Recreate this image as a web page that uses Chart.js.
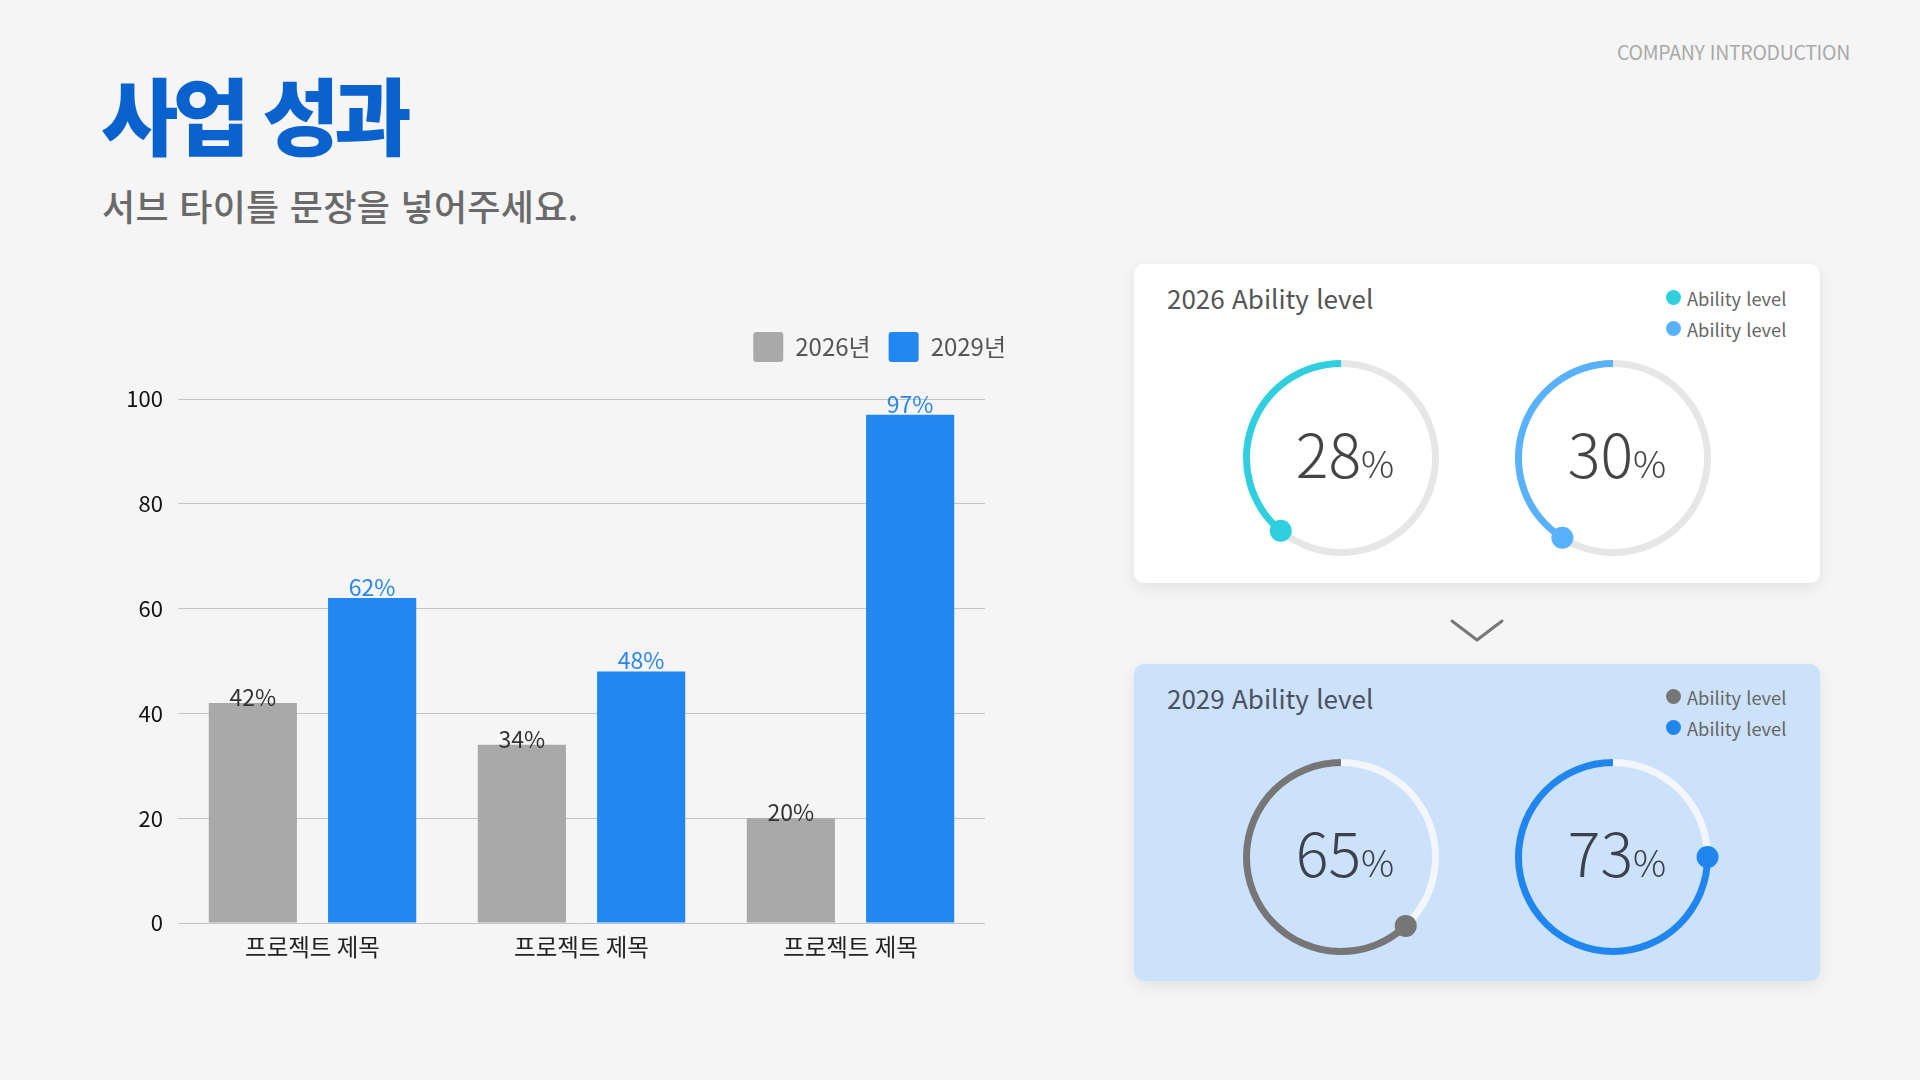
<!DOCTYPE html>
<html lang="ko">
<head>
<meta charset="utf-8">
<title>사업 성과</title>
<script src="https://cdn.jsdelivr.net/npm/chart.js@4.4.1/dist/chart.umd.min.js"></script>
<style>
  body { margin: 0; background: #f5f5f5; font-family: "Noto Sans CJK KR", "Noto Sans", sans-serif; }
  #page { position: relative; width: 1920px; height: 1080px; overflow: hidden; }
  .abs { position: absolute; }
  #title { left: 101px; top: 71px; font-size: 84px; line-height: 84px; font-weight: 900; color: #0a62cf; letter-spacing: -5.5px; white-space: nowrap; }
  #subtitle { left: 102px; top: 187px; font-size: 36px; line-height: 36px; font-weight: 500; color: #6a6a6a; letter-spacing: 0.3px; white-space: nowrap; }
  #company { right: 70px; top: 41.5px; font-size: 19.5px; line-height: 19.5px; color: #a9a9a9; letter-spacing: -0.3px; }
  #barBox { left: 100px; top: 314px; width: 924px; height: 666px; }
  .card { left: 1134px; width: 686px; border-radius: 10px; box-shadow: 0 5px 16px rgba(0,0,0,0.08); }
  .card h3 { position: absolute; left: 33px; margin: 0; font-size: 26px; line-height: 26px; font-weight: 400; color: #555; white-space: nowrap; }
  .legend { position: absolute; left: 532px; }
  .legend div { height: 31px; display: flex; align-items: center; font-size: 18.3px; color: #666; white-space: nowrap; }
  .legend span.dot { width: 15px; height: 15px; border-radius: 50%; margin-right: 6px; display: inline-block; }
  .ring { width: 226px; height: 226px; }
  .center { width: 240px; text-align: center; font-size: 61px; line-height: 61px; font-weight: 300; color: #444; white-space: nowrap; }
  .center small { font-size: 37px; font-weight: 300; }
</style>
</head>
<body>
<div id="page">
  <div id="title" class="abs">사업 성과</div>
  <div id="subtitle" class="abs">서브 타이틀 문장을 넣어주세요.</div>
  <div id="company" class="abs">COMPANY INTRODUCTION</div>

  <div id="barBox" class="abs"><canvas id="barChart"></canvas></div>

  <div id="card1" class="abs card" style="top:264px;height:319px;background:#ffffff;"></div>
  <svg class="abs" style="left:1448px;top:615px;" width="58" height="30">
    <polyline points="4,6 29,25 54,6" fill="none" stroke="#777" stroke-width="3" stroke-linecap="round" stroke-linejoin="round"/>
  </svg>
  <div id="card2" class="abs card" style="top:664px;height:317px;background:#cce1fa;"></div>
</div>

<script>
// bar chart data
const categories = ['프로젝트 제목', '프로젝트 제목', '프로젝트 제목'];
const seriesNames = ['2026년', '2029년'];
const values2026 = [42, 34, 20];
const values2029 = [62, 48, 97];
const yTicks = [0, 20, 40, 60, 80, 100];

// ring cards
const cardTitles = ['2026 Ability level', '2029 Ability level'];
const legendNames = ['Ability level', 'Ability level'];
const ringLabels = [28, 30, 65, 73];      // number written in the middle
const ringArcs = [39, 41, 62, 75];        // share of the circle that is filled

const ringColors = ['#2fcfe0', '#5ab1fb', '#767676', '#2086ee'];
const trackColors = ['#e6e6e6', '#e6e6e6', '#f3f6fa', '#f3f6fa'];
const centers = [[1341, 458], [1613, 458], [1341, 857], [1613, 857]];

const barValueLabels = {
    id: 'barValueLabels',
    afterDatasetsDraw(chart) {
        const ctx = chart.ctx;
        chart.data.datasets.forEach((ds, i) => {
            chart.getDatasetMeta(i).data.forEach((bar, j) => {
                ctx.save();
                ctx.font = '23px "Noto Sans CJK KR"';
                ctx.fillStyle = ds.labelColor;
                ctx.textAlign = 'center';
                ctx.textBaseline = 'alphabetic';
                ctx.fillText(ds.data[j] + '%', bar.x, bar.y + ds.labelShift);
                ctx.restore();
            });
        });
    }
};

const legendGap = {
    id: 'legendGap',
    beforeInit(chart) {
        const fit = chart.legend.fit;
        chart.legend.fit = function () {
            fit.bind(chart.legend)();
            this.height += 27;
        };
    }
};

var ctx = document.getElementById('barChart').getContext('2d');
var barChart = new Chart(ctx, {
    type: 'bar',
    data: {
        labels: categories,
        datasets: [{
            label: seriesNames[0],
            data: values2026,
            backgroundColor: '#a9a9a9',
            labelColor: '#333333',
            labelShift: 3
        }, {
            label: seriesNames[1],
            data: values2029,
            backgroundColor: '#2188f2',
            labelColor: '#2a86e8',
            labelShift: -2
        }]
    },
    options: {
        responsive: true,
        maintainAspectRatio: false,
        animation: false,
        datasets: {
            bar: { categoryPercentage: 0.887, barPercentage: 0.739 }
        },
        plugins: {
            legend: {
                position: 'top',
                align: 'end',
                labels: {
                    boxWidth: 30,
                    boxHeight: 30,
                    padding: 18,
                    useBorderRadius: true,
                    borderRadius: 3,
                    color: '#555',
                    font: { family: 'Noto Sans CJK KR', size: 24 }
                }
            },
            tooltip: { enabled: false }
        },
        scales: {
            x: {
                grid: { display: false, drawTicks: false },
                border: { display: false },
                ticks: { color: '#222', padding: 10, font: { family: 'Noto Sans CJK KR', size: 23.5 } },
                afterFit: axis => { axis.height = 57; }
            },
            y: {
                min: 0,
                max: 100,
                afterBuildTicks: axis => { axis.ticks = yTicks.map(v => ({ value: v })); },
                grid: { color: '#c4c4c4', lineWidth: 1, drawTicks: false },
                border: { display: false },
                ticks: { color: '#111', padding: 15, font: { family: 'Noto Sans CJK KR', size: 22 } },
                afterFit: axis => { axis.width = 78; }
            },
            y2: {
                position: 'right',
                grid: { display: false, drawTicks: false },
                border: { display: false },
                ticks: { display: false },
                afterFit: axis => { axis.width = 39; }
            }
        }
    },
    plugins: [barValueLabels, legendGap]
});

// ring dots
const ringDot = {
    id: 'ringDot',
    afterDatasetsDraw(chart) {
        const arc = chart.getDatasetMeta(0).data[1];
        const r = (arc.outerRadius + arc.innerRadius) / 2;
        const c = chart.ctx;
        c.save();
        c.fillStyle = chart.data.datasets[0].backgroundColor[1];
        c.beginPath();
        c.arc(arc.x + r * Math.cos(arc.startAngle), arc.y + r * Math.sin(arc.startAngle), 11, 0, Math.PI * 2);
        c.fill();
        c.restore();
    }
};

const page = document.getElementById('page');

cardTitles.forEach((t, k) => {
    const card = document.getElementById('card' + (k + 1));
    const h = document.createElement('h3');
    h.textContent = t;
    h.style.top = (k === 0 ? 20.5 : 21) + 'px';
    h.style.color = k === 0 ? '#555' : '#4a5260';
    card.appendChild(h);
    const lg = document.createElement('div');
    lg.className = 'legend';
    lg.style.top = (k === 0 ? 18 : 17) + 'px';
    legendNames.forEach((n, m) => {
        const row = document.createElement('div');
        row.innerHTML = '<span class="dot" style="background:' + ringColors[k * 2 + m] + '"></span>' + n;
        lg.appendChild(row);
    });
    card.appendChild(lg);
});

ringArcs.forEach((a, i) => {
    const [cx, cy] = centers[i];
    const box = document.createElement('div');
    box.className = 'abs ring';
    box.style.left = (cx - 113) + 'px';
    box.style.top = (cy - 113) + 'px';
    const cv = document.createElement('canvas');
    box.appendChild(cv);
    page.appendChild(box);

    new Chart(cv.getContext('2d'), {
        type: 'doughnut',
        data: {
            datasets: [{
                data: [100 - a, a],
                backgroundColor: [trackColors[i], ringColors[i]],
                borderWidth: 0
            }]
        },
        options: {
            responsive: true,
            maintainAspectRatio: false,
            animation: false,
            cutout: '92.9%',
            layout: { padding: 15 },
            plugins: { legend: { display: false }, tooltip: { enabled: false } }
        },
        plugins: [ringDot]
    });

    const txt = document.createElement('div');
    txt.className = 'abs center';
    txt.style.left = (cx - 116) + 'px';
    txt.style.top = (cy - 37) + 'px';
    txt.style.color = i < 2 ? '#444' : '#3b424d';
    txt.innerHTML = ringLabels[i] + '<small>%</small>';
    page.appendChild(txt);
});
</script>
</body>
</html>
